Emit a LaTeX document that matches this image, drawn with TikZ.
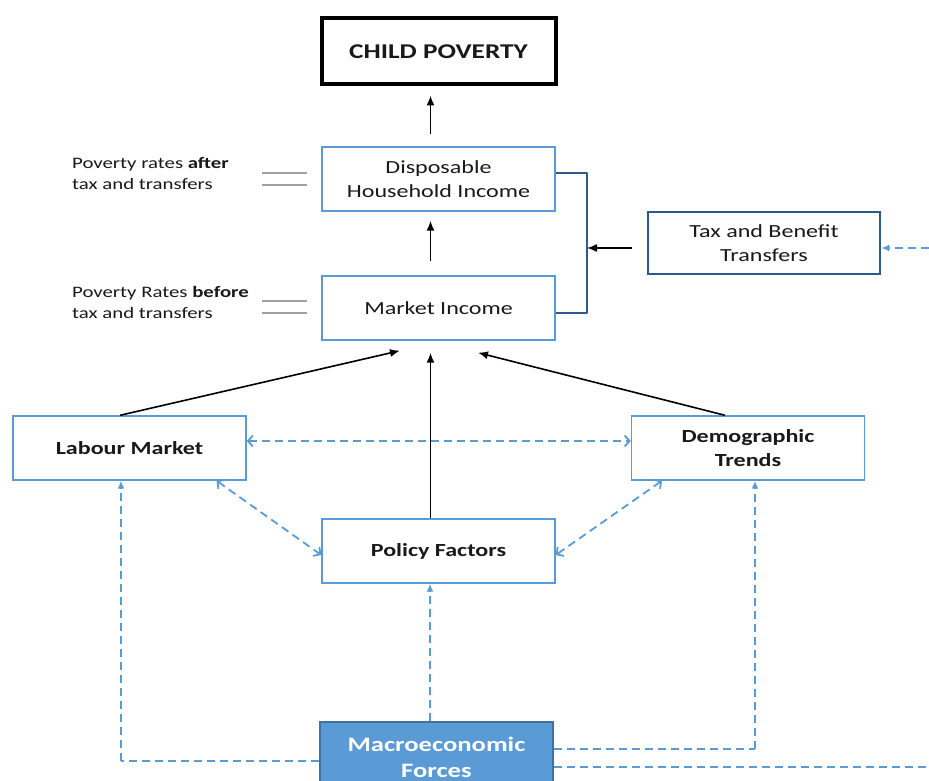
\documentclass[tikz,border=0pt]{standalone}
\usepackage{fontspec}
\setmainfont{Carlito}[FakeStretch=1.3]
\usetikzlibrary{arrows.meta,calc}
\definecolor{boxblue}{RGB}{91,155,213}
\definecolor{darkblue}{RGB}{44,90,140}
\definecolor{macroedge}{RGB}{65,113,156}
\definecolor{txt}{RGB}{25,25,25}
\definecolor{rule}{RGB}{160,160,160}
\begin{document}
\begin{tikzpicture}[x=1pt,y=-1pt,
  box/.style={draw=boxblue, line width=1.4pt, minimum width=233pt, minimum height=64pt,
    align=center, text=txt, inner sep=2pt, font=\fontsize{18.5}{24}\selectfont},
  boldbox/.style={box, font=\fontsize{18.5}{24}\selectfont\bfseries},
  note/.style={align=left, anchor=west, text=txt, inner sep=0pt, font=\fontsize{16}{21.5}\selectfont},
  solidarrow/.style={draw=black, line width=1.6pt, -{Latex[length=10pt,width=8pt]}},
  dashlink/.style={draw=boxblue, line width=1.8pt, dash pattern=on 8pt off 5pt,
    {Straight Barb[length=5pt,width=11pt]}-{Straight Barb[length=5pt,width=11pt]}},
  macrolink/.style={draw=boxblue, line width=1.9pt, dash pattern=on 8pt off 5pt,
    -{Latex[length=8pt,width=7pt]}},
  macroline/.style={draw=boxblue, line width=1.9pt, dash pattern=on 8pt off 5pt},
  pair/.style={draw=rule, line width=1.2pt}]
\useasboundingbox (0,0) rectangle (929,781);

% outcome at the top
\node[draw=black, line width=4pt, minimum width=234pt, minimum height=66pt, text=txt,
  font=\fontsize{21}{26}\selectfont\bfseries] (cp) at (438.5,51.5) {CHILD POVERTY};

% income boxes
\node[box] (dhi) at (438.5,179) {Disposable\\Household Income};
\node[box] (mi) at (438.5,308) {Market Income};
\node[box, draw=darkblue, line width=2.6pt, minimum width=232pt, minimum height=62pt] (tax) at (764,243)
  {Tax and Benefit\\Transfers};

% drivers
\node[boldbox] (lab) at (129.5,448) {Labour Market};
\node[boldbox] (dem) at (748,448) {Demographic\\Trends};
\node[boldbox] (pol) at (438.5,551) {Policy Factors};
\node[draw=macroedge, fill=boxblue, line width=1.4pt, minimum width=233pt, minimum height=70pt,
  align=center, text=white, font=\fontsize{20.5}{26}\selectfont\bfseries] (mac) at (436.5,757)
  {Macroeconomic\\Forces};

% side notes with their double rules
\node[note] (na) at (72,173.5) {Poverty rates \textbf{after}\\tax and transfers};
\node[note] (nb) at (72,302.5) {Poverty Rates \textbf{before}\\tax and transfers};
\coordinate (pa) at (262,173);
\coordinate (pb) at (262,301);
\draw[pair] (pa) -- ++(45,0);
\draw[pair] ([yshift=-12pt]pa) -- ++(45,0);
\draw[pair] (pb) -- ++(45,0);
\draw[pair] ([yshift=-12pt]pb) -- ++(45,0);

% upward flow
\draw[solidarrow, shorten <=12pt, shorten >=9pt] ([xshift=-8pt]dhi.north) -- ([xshift=-8pt]cp.south);
\draw[solidarrow, shorten <=14pt, shorten >=9pt] ([xshift=-8pt]mi.north) -- ([xshift=-8pt]dhi.south);
\draw[solidarrow, shorten >=12pt] ([xshift=-8pt]pol.north) -- ([xshift=-8pt]mi.south);
\coordinate (ml) at ($(mi.south)+(-38.5,10)$);
\coordinate (mr) at ($(mi.south)+(39.5,12)$);
\draw[solidarrow] ([xshift=-9.5pt]lab.north) -- (ml);
\draw[solidarrow] ([xshift=-23pt]dem.north) -- (mr);

% transfers bracket
\coordinate (brk) at (587,248);
\draw[darkblue, line width=2pt, line join=round]
  ([yshift=6pt]dhi.east) -| (brk) |- ([yshift=-5pt]mi.east);
\draw[solidarrow, line width=1.4pt, shorten <=15pt] ([yshift=-5pt]tax.west) -- (brk);
\coordinate (te) at (929,248);
\draw[macrolink, line width=1.6pt] (te) -- ([yshift=-5pt]tax.east);

% links between drivers
\draw[dashlink] ([yshift=7pt]lab.east) -- ([yshift=7pt]dem.west);
\draw[dashlink] ([xshift=87pt]lab.south) -- ([yshift=-4pt]pol.west);
\draw[dashlink] ([xshift=-86pt]dem.south) -- ([yshift=-4pt]pol.east);

% macroeconomic influences
\draw[macrolink] ([xshift=-6.5pt]mac.north) -- ([xshift=-8.5pt]pol.south);
\coordinate (lc) at (121,761);
\draw[macroline] ([yshift=-4pt]mac.west) -- (lc);
\draw[macrolink] (lc) -- ([xshift=-8.5pt]lab.south);
\coordinate (rc) at (755,749);
\draw[macroline] ([yshift=8pt]mac.east) -- (rc);
\draw[macrolink] (rc) -- ([xshift=7pt]dem.south);
\coordinate (re) at (929,767);
\draw[macroline] ([yshift=-10pt]mac.east) -- (re);
\end{tikzpicture}
\end{document}
